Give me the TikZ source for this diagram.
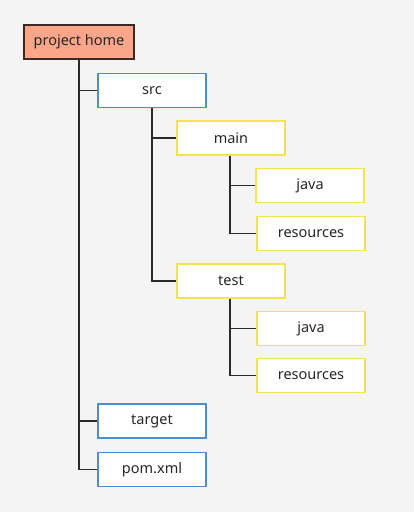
\documentclass[tikz,border=0pt]{standalone}
\usepackage{fontspec}
\setmainfont{Noto Sans}
\definecolor{bgc}{HTML}{F4F4F4}
\definecolor{salmon}{HTML}{FBA68A}
\definecolor{darkb}{HTML}{3A2A22}
\definecolor{blueb}{HTML}{4A90CE}
\definecolor{yellowb}{HTML}{F3E34C}
\definecolor{linec}{HTML}{2A2A2A}
\begin{document}
\begin{tikzpicture}[x=1pt,y=-1pt,
  box/.style={draw, line width=1.4pt, fill=white, inner sep=0pt, font=\fontsize{14.5}{16}\selectfont, text=black!85},
  rootbox/.style={box, fill=salmon, draw=darkb, minimum width=110pt, minimum height=34pt},
  bluebox/.style={box, draw=blueb, minimum width=108pt, minimum height=34pt},
  yelbox/.style={box, draw=yellowb, minimum width=108pt, minimum height=34pt},
  conn/.style={draw=linec, line width=1.5pt}]
\fill[bgc] (0,0) rectangle (414,512);
\useasboundingbox (0,0) rectangle (414,512);
\node[rootbox] (ph) at (79,42) {project home};
\node[bluebox] (src) at (152,90.5) {src};
\node[yelbox] (main) at (231,138) {main};
\node[yelbox] (mjava) at (310,185.5) {java};
\node[yelbox] (mres) at (311,233.5) {resources};
\node[yelbox] (test) at (231,281) {test};
\node[yelbox] (tjava) at (311,328.5) {java};
\node[yelbox] (tres) at (311,375.5) {resources};
\node[bluebox] (target) at (152,421) {target};
\node[bluebox] (pom) at (152,469.5) {pom.xml};
\draw[conn] (ph.south) |- (src.west);
\draw[conn] (ph.south) |- (target.west);
\draw[conn] (ph.south) |- (pom.west);
\draw[conn] (src.south) |- (main.west);
\draw[conn] (src.south) |- (test.west);
\draw[conn] ([xshift=-1pt]main.south) |- (mjava.west);
\draw[conn] ([xshift=-1pt]main.south) |- (mres.west);
\draw[conn] ([xshift=-1pt]test.south) |- (tjava.west);
\draw[conn] ([xshift=-1pt]test.south) |- (tres.west);
\end{tikzpicture}
\end{document}
